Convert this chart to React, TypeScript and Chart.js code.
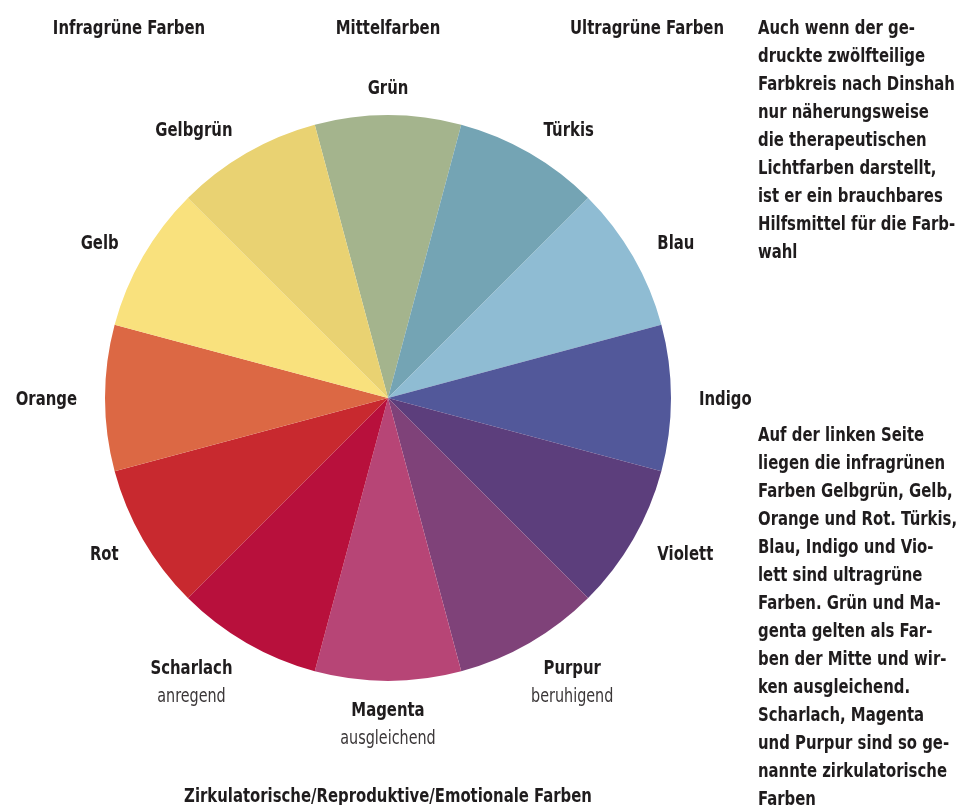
import React, { useEffect, useRef } from "react";
import { Chart, registerables } from "chart.js";

Chart.register(...registerables);

const colorNames = ["Grün", "Türkis", "Blau", "Indigo", "Violett", "Purpur", "Magenta", "Scharlach", "Rot", "Orange", "Gelb", "Gelbgrün"];
const sliceValues = [1, 1, 1, 1, 1, 1, 1, 1, 1, 1, 1, 1];
const sliceColors = ["#a4b48d", "#74a4b4", "#8fbcd3", "#52589a", "#5c3e7c", "#7f4279", "#b74576", "#b8103c", "#c8292f", "#dc6844", "#f9e17d", "#e9d272"];
const effectNotes = ["", "", "", "", "", "beruhigend", "ausgleichend", "anregend", "", "", "", ""];
const groupLabels = ["Infragrüne Farben", "Mittelfarben", "Ultragrüne Farben"];
const bottomLabel = "Zirkulatorische/Reproduktive/Emotionale Farben";
const noteTop = [
  "Auch wenn der ge-",
  "druckte zwölfteilige",
  "Farbkreis nach Dinshah",
  "nur näherungsweise",
  "die therapeutischen",
  "Lichtfarben darstellt,",
  "ist er ein brauchbares",
  "Hilfsmittel für die Farb-",
  "wahl",
];
const noteBottom = [
  "Auf der linken Seite",
  "liegen die infragrünen",
  "Farben Gelbgrün, Gelb,",
  "Orange und Rot. Türkis,",
  "Blau, Indigo und Vio-",
  "lett sind ultragrüne",
  "Farben. Grün und Ma-",
  "genta gelten als Far-",
  "ben der Mitte und wir-",
  "ken ausgleichend.",
  "Scharlach, Magenta",
  "und Purpur sind so ge-",
  "nannte zirkulatorische",
  "Farben",
];

const FONT_FAMILY = '"DejaVu Sans Condensed", "DejaVu Sans", sans-serif';
const TEXT_COLOR = "#1f1c1d";
const BOLD_SCALE = 0.87;
const LIGHT_SCALE = 0.84;

function drawText(ctx: CanvasRenderingContext2D, text: string, x: number, y: number, align: CanvasTextAlign, sx: number) {
  ctx.save();
  ctx.translate(x, y);
  ctx.scale(sx, 1);
  ctx.textAlign = align;
  ctx.fillText(text, 0, 0);
  ctx.restore();
}

const labelPlugin = {
  id: "wheelLabels",
  afterDatasetsDraw(chart: any) {
    const ctx = chart.ctx as CanvasRenderingContext2D;
    const meta = chart.getDatasetMeta(0);
    ctx.save();
    ctx.textBaseline = "middle";
    let cx = 0, cy = 0, R = 0;
    const bold = `bold 19px ${FONT_FAMILY}`;
    const light = `19px ${FONT_FAMILY}`;
    meta.data.forEach((arc: any, i: number) => {
      const p = arc.getProps(["x", "y", "startAngle", "endAngle", "outerRadius"], true);
      cx = p.x; cy = p.y; R = p.outerRadius;
      const mid = (p.startAngle + p.endAngle) / 2;
      const ux = Math.cos(mid);
      const uy = Math.sin(mid);
      const D = R + 28;
      const ax = p.x + D * ux;
      const ay = p.y + D * uy + 2;
      ctx.font = bold;
      const w = ctx.measureText(colorNames[i]).width * BOLD_SCALE;
      let align: CanvasTextAlign = "center";
      let centerX = ax;
      if (ux > 0.2) { align = "left"; centerX = ax + w / 2; }
      else if (ux < -0.2) { align = "right"; centerX = ax - w / 2; }
      ctx.fillStyle = TEXT_COLOR;
      drawText(ctx, colorNames[i], ax, ay, align, BOLD_SCALE);
      if (effectNotes[i]) {
        ctx.font = light;
        ctx.fillStyle = "#3a3637";
        drawText(ctx, effectNotes[i], centerX, ay + 28, "center", LIGHT_SCALE);
      }
    });
    ctx.font = bold;
    ctx.fillStyle = TEXT_COLOR;
    groupLabels.forEach((g, i) => {
      drawText(ctx, g, cx + (i - 1) * 259, cy - R - 86, "center", BOLD_SCALE);
    });
    drawText(ctx, bottomLabel, cx, cy + R + 116, "center", BOLD_SCALE);
    ctx.restore();
  },
};

export default function App() {
  const canvasRef = useRef<HTMLCanvasElement | null>(null);

  useEffect(() => {
    if (!canvasRef.current) return;
    const chart = new Chart(canvasRef.current, {
      type: "pie",
      data: {
        labels: colorNames,
        datasets: [
          {
            data: sliceValues,
            backgroundColor: sliceColors,
            borderWidth: 0,
          },
        ],
      },
      options: {
        responsive: false,
        animation: false,
        rotation: -15,
        layout: { padding: { left: 105, right: 287, top: 115, bottom: 124 } },
        plugins: {
          legend: { display: false },
          tooltip: { enabled: false },
        },
      },
      plugins: [labelPlugin],
    });
    return () => chart.destroy();
  }, []);

  const paraStyle: React.CSSProperties = {
    position: "absolute",
    left: 758,
    fontFamily: FONT_FAMILY,
    fontWeight: "bold",
    fontSize: 19,
    lineHeight: "28px",
    color: TEXT_COLOR,
    whiteSpace: "nowrap",
    transform: `scaleX(${BOLD_SCALE})`,
    transformOrigin: "0 0",
  };

  return (
    <div style={{ position: "absolute", left: 0, top: 0, width: 958, height: 805, overflow: "hidden", background: "#fff" }}>
      <canvas ref={canvasRef} width={958} height={805} style={{ position: "absolute", left: 0, top: 0 }} />
      <div style={{ ...paraStyle, top: 13 }}>
        {noteTop.map((l, i) => (
          <div key={i}>{l}</div>
        ))}
      </div>
      <div style={{ ...paraStyle, top: 420 }}>
        {noteBottom.map((l, i) => (
          <div key={i}>{l}</div>
        ))}
      </div>
    </div>
  );
}
